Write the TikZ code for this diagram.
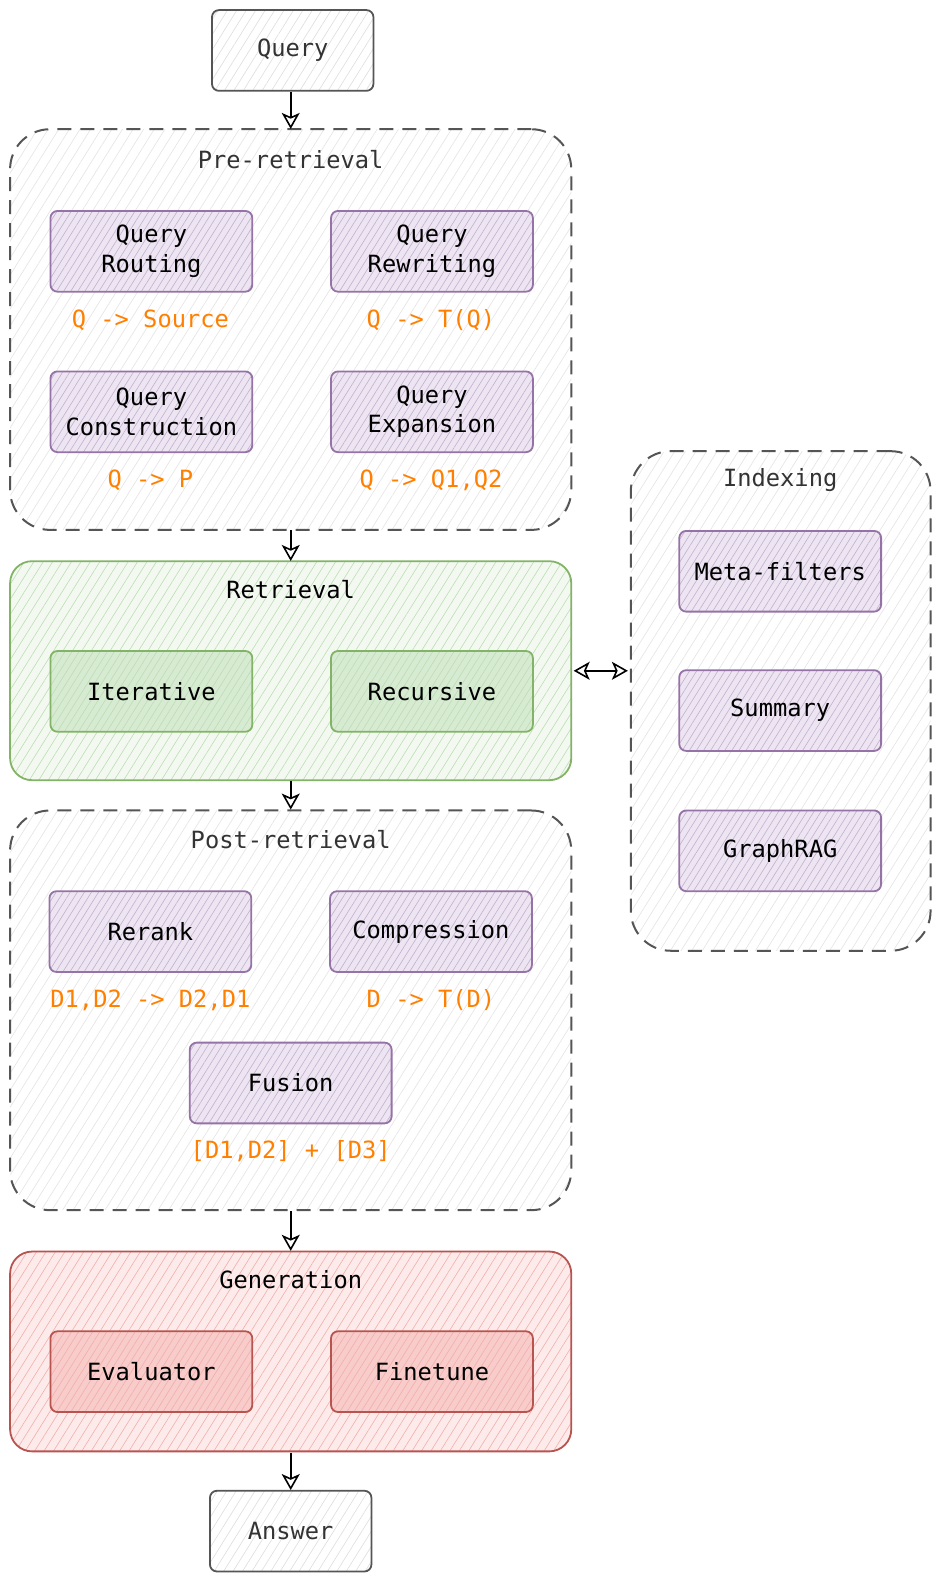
\documentclass[tikz,border=0pt]{standalone}
\usepackage{fontspec}
\setmonofont{DejaVu Sans Mono}
\usetikzlibrary{patterns.meta,arrows.meta}
\definecolor{pstroke}{HTML}{9673A6}
\definecolor{pfill}{HTML}{EDE5F1}
\definecolor{phatch}{HTML}{C3AFD0}
\definecolor{gstroke}{HTML}{82B366}
\definecolor{gfill}{HTML}{F3F9F1}
\definecolor{ghatch}{HTML}{BCDDB3}
\definecolor{rstroke}{HTML}{B85450}
\definecolor{rfill}{HTML}{FCEBEA}
\definecolor{rhatch}{HTML}{F2AEAA}
\definecolor{kstroke}{HTML}{555555}
\definecolor{khatch}{HTML}{DDDDDD}
\definecolor{otext}{HTML}{FF8000}
\definecolor{gtext}{HTML}{333333}
\tikzset{
  x=1pt,y=-1pt,
  every node/.style={font=\ttfamily\fontsize{23.5}{29}\selectfont, transform shape},
  hatch/.style={pattern={Lines[angle=58,distance=#1,line width=0.6pt]}},
  innerbox/.style 2 args={draw=#1, line width=1.8pt, rounded corners=7pt,
    minimum width=200pt, minimum height=80pt, align=center, inner sep=0pt,
    preaction={fill=#2}},
  purplebox/.style={innerbox={pstroke}{pfill}, hatch=6pt, pattern color=phatch},
  greenbox/.style={innerbox={gstroke}{gfill!50!ghatch}, hatch=6pt, pattern color=ghatch},
  redbox/.style={innerbox={rstroke}{rfill!50!rhatch}, hatch=6pt, pattern color=rhatch},
  graybox/.style={draw=kstroke, line width=1.8pt, rounded corners=7pt,
    minimum width=160pt, minimum height=80pt, inner sep=0pt, text=gtext,
    preaction={fill=white}, hatch=8pt, pattern color=khatch},
  dashcont/.style={draw=kstroke, line width=2pt, dash pattern=on 14pt off 9pt,
    rounded corners=40pt, inner sep=0pt, preaction={fill=white}, hatch=9pt, pattern color=khatch!80!white},
  gcont/.style={draw=gstroke, line width=1.8pt, rounded corners=22pt, inner sep=0pt,
    preaction={fill=gfill}, hatch=8pt, pattern color=ghatch},
  rcont/.style={draw=rstroke, line width=1.8pt, rounded corners=22pt, inner sep=0pt,
    preaction={fill=rfill}, hatch=8pt, pattern color=rhatch},
  olabel/.style={text=otext},
  ttl/.style={text=gtext},
  arr/.style={-{Stealth[open,length=16pt,width=18pt,inset=4pt,line width=1.6pt]}, line width=1.8pt, black},
  darr/.style={{Stealth[open,length=16pt,width=18pt,inset=4pt,line width=1.6pt]}-{Stealth[open,length=16pt,width=18pt,inset=4pt,line width=1.6pt]}, line width=1.8pt, black}
}
\begin{document}
\begin{tikzpicture}[scale=1.0093]
\useasboundingbox (0,0) rectangle (933.32,1567.42);
% containers
\node[dashcont, minimum width=556pt, minimum height=397pt] (pre) at (288,326.5) {};
\node[gcont, minimum width=556pt, minimum height=217pt] (ret) at (288,664.5) {};
\node[dashcont, minimum width=556pt, minimum height=396pt] (post) at (288,1001) {};
\node[rcont, minimum width=556pt, minimum height=198pt] (gen) at (288,1339) {};
\node[dashcont, minimum width=297pt, minimum height=495pt] (idx) at (773.5,694.5) {};
% titles
\node[ttl] (pretitle) at (288,158) {Pre-retrieval};
\node (rettitle) at (288,584) {Retrieval};
\node[ttl] (posttitle) at (288,832) {Post-retrieval};
\node (gentitle) at (288,1268) {Generation};
\node[ttl] (idxtitle) at (773,476) {Indexing};
% top / bottom
\node[graybox] (query) at (290,50) {Query};
\node[graybox] (answer) at (288,1517) {Answer};
% pre-retrieval
\node[purplebox] (routing) at (150,249) {Query\\Routing};
\node[purplebox] (rewriting) at (428,249) {Query\\Rewriting};
\node[purplebox] (construction) at (150,408) {Query\\Construction};
\node[purplebox] (expansion) at (428,408) {Query\\Expansion};
\node[olabel] (l1) at (149,317) {Q -> Source};
\node[olabel] (l2) at (427,317) {Q -> T(Q)};
\node[olabel] (l3) at (149,476) {Q -> P};
\node[olabel] (l4) at (427,476) {Q -> Q1,Q2};
% retrieval
\node[greenbox] (iter) at (150,685) {Iterative};
\node[greenbox] (recur) at (428,685) {Recursive};
% post-retrieval
\node[purplebox] (rerank) at (149,923) {Rerank};
\node[purplebox] (compr) at (427,923) {Compression};
\node[purplebox] (fusion) at (288,1073) {Fusion};
\node[olabel] (l5) at (149,991) {D1,D2 -> D2,D1};
\node[olabel] (l6) at (427,991) {D -> T(D)};
\node[olabel] (l7) at (288,1141) {[D1,D2] + [D3]};
% generation
\node[redbox] (eval) at (150,1359) {Evaluator};
\node[redbox] (fine) at (428,1359) {Finetune};
% indexing
\node[purplebox] (meta) at (773,566) {Meta-filters};
\node[purplebox] (summ) at (773,704) {Summary};
\node[purplebox] (graph) at (773,843) {GraphRAG};
% arrows
\draw[arr] (query.south -| pre.north) -- (pre.north);
\draw[arr] (pre.south) -- (ret.north);
\draw[arr] (ret.south) -- (post.north);
\draw[arr] (post.south) -- (gen.north);
\draw[arr] (gen.south) -- (answer.north);
\draw[darr] ([xshift=2pt]ret.east) -- ([xshift=-2pt]ret.east -| idx.west);
\end{tikzpicture}
\end{document}
